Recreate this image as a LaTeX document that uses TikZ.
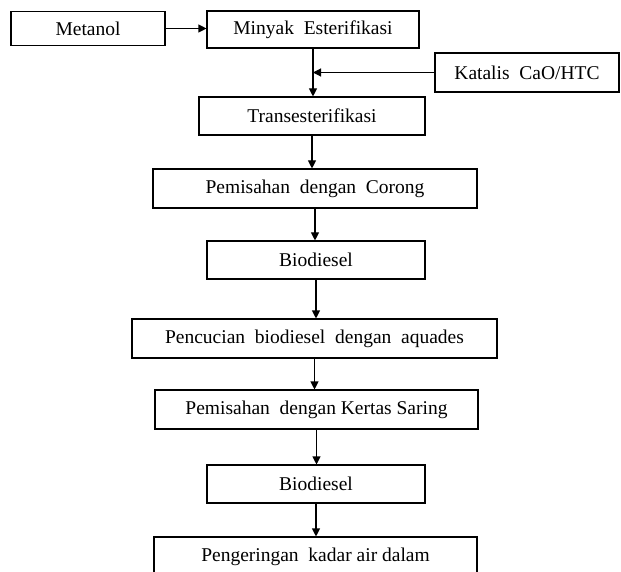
\documentclass[tikz,border=0pt]{standalone}
\usepackage{fontspec}
\setmainfont{Liberation Serif}
\usetikzlibrary{arrows.meta, positioning, calc}

\begin{document}
\begin{tikzpicture}[x=1pt, y=-1pt, >={Triangle[length=8pt, width=8pt]}, line width=1.1pt,
    box/.style={draw, rectangle, inner sep=0pt, font=\fontsize{19.5}{23}\selectfont}]
        % page
        \useasboundingbox (0,0) rectangle (621,572);
        \clip (0,0) rectangle (621,572);
        % inputs
        \node[box, minimum width=154pt, minimum height=34pt] (met) at (88,28.5) {Metanol};
        \node[box, minimum width=212pt, minimum height=37pt] (minyak) at (313,29.5) {Minyak\ \ Esterifikasi};
        \node[box, minimum width=184pt, minimum height=39pt] (katalis) at (527,72.5) {Katalis\ \ CaO/HTC};
        % process chain
        \node[box, minimum width=226pt, minimum height=38pt] (trans) at (312,116) {Transesterifikasi};
        \node[box, minimum width=324pt, minimum height=39pt] (corong) at (315,188.5) {Pemisahan\ \ dengan\ \ Corong};
        \node[box, minimum width=218pt, minimum height=38pt] (bioA) at (316,260) {Biodiesel};
        \node[box, minimum width=365pt, minimum height=39pt] (cuci) at (314.5,338.5) {Pencucian\ \ biodiesel\ \ dengan\ \ aquades};
        \node[box, minimum width=323pt, minimum height=39pt] (saring) at (316.5,409.5) {Pemisahan\ \ dengan\ Kertas\ Saring};
        \node[box, minimum width=218pt, minimum height=38pt] (bioB) at (316,484) {Biodiesel};
        \node[box, minimum width=323pt, minimum height=39pt] (kering) at (315.5,556.5) {Pengeringan\ \ kadar\ air\ dalam};
        % arrows
        \draw[->] (met.east) -- (met.east -| minyak.west);
        \draw[->] (minyak.south) -- (minyak.south |- trans.north);
        \draw[->] (katalis.west) -- (katalis.west -| minyak.south);
        \foreach \a/\b in {trans/corong, corong/bioA, bioA/cuci, cuci/saring, saring/bioB, bioB/kering} {
            \draw[->] (\a.south) -- (\a.south |- \b.north);
        }
    \end{tikzpicture}
\end{document}
